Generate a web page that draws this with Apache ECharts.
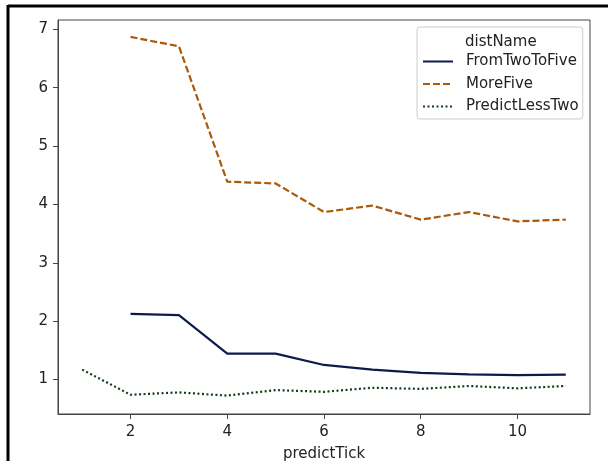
<!DOCTYPE html>
<html>
<head>
<meta charset="utf-8">
<script src="https://cdn.jsdelivr.net/npm/echarts@6/dist/echarts.min.js"></script>
<style>
  html, body { margin: 0; padding: 0; background: #fff; }
  #chart { width: 608px; height: 461px; }
</style>
</head>
<body>
<div id="chart"></div>
<script>
var ticks = [1, 2, 3, 4, 5, 6, 7, 8, 9, 10, 11];
var fromTwoToFive = [null, 2.125, 2.105, 1.445, 1.445, 1.25, 1.17, 1.115, 1.09, 1.075, 1.085];
var moreFive = [null, 6.87, 6.71, 4.39, 4.36, 3.87, 3.98, 3.74, 3.87, 3.71, 3.74];
var predictLessTwo = [1.17, 0.74, 0.78, 0.725, 0.82, 0.79, 0.86, 0.84, 0.89, 0.85, 0.89];
var xTicks = [2, 4, 6, 8, 10];
var yTicks = [1, 2, 3, 4, 5, 6, 7];

function pairs(vals) {
  var out = [];
  for (var i = 0; i < ticks.length; i++) {
    if (vals[i] != null) out.push([ticks[i], vals[i]]);
  }
  return out;
}

var font = 'DejaVu Sans';
var chart = echarts.init(document.getElementById('chart'));

var option = {
  animation: false,
  backgroundColor: '#fff',
  textStyle: { fontFamily: font },
  grid: {
    left: 58, top: 20, right: 18, bottom: 47,
    outerBoundsMode: 'none', containLabel: false,
    show: true, borderColor: '#444', borderWidth: 1
  },
  title: {
    text: 'distName', left: 460, top: 30,
    textStyle: { fontFamily: font, fontSize: 15, fontWeight: 'normal', color: '#222' }
  },
  legend: {
    orient: 'vertical', left: 417, top: 27,
    padding: [27, 4, 5, 5],
    itemGap: 7.5, itemWidth: 30, itemHeight: 12,
    borderColor: '#ccc', borderWidth: 1, borderRadius: 3,
    itemStyle: { opacity: 0 },
    textStyle: { fontFamily: font, fontSize: 15, color: '#222', padding: [0, 0, 0, 8] },
    data: ['FromTwoToFive', 'MoreFive', 'PredictLessTwo']
  },
  graphic: [
    { type: 'line', shape: { x1: 8, y1: 6, x2: 608, y2: 6 }, style: { stroke: '#000', lineWidth: 3 } },
    { type: 'line', shape: { x1: 8, y1: 5, x2: 8, y2: 461 }, style: { stroke: '#000', lineWidth: 3 } }
  ],
  xAxis: {
    type: 'value', min: 0.5, max: 11.5,
    name: 'predictTick', nameLocation: 'middle', nameGap: 33,
    nameTextStyle: { fontFamily: font, fontSize: 15, color: '#222' },
    splitLine: { show: false },
    axisLine: { show: true, lineStyle: { color: '#444' } },
    axisTick: { show: true, inside: false, length: 5, customValues: xTicks, lineStyle: { color: '#444' } },
    axisLabel: { customValues: xTicks, fontSize: 15, color: '#222', margin: 11, fontFamily: font }
  },
  yAxis: {
    type: 'value', min: 0.41, max: 7.16,
    splitLine: { show: false },
    axisLine: { show: true, lineStyle: { color: '#444' } },
    axisTick: { show: true, inside: false, length: 5, customValues: yTicks, lineStyle: { color: '#444' } },
    axisLabel: { customValues: yTicks, fontSize: 15, color: '#222', margin: 10, fontFamily: font }
  },
  series: [
    {
      name: 'FromTwoToFive', type: 'line', symbol: 'none',
      data: pairs(fromTwoToFive),
      itemStyle: { color: '#0d1b4c' },
      lineStyle: { color: '#0d1b4c', width: 2.2, type: 'solid' }
    },
    {
      name: 'MoreFive', type: 'line', symbol: 'none',
      data: pairs(moreFive),
      itemStyle: { color: '#a95a0c' },
      lineStyle: { color: '#a95a0c', width: 2.2, type: [7, 3] }
    },
    {
      name: 'PredictLessTwo', type: 'line', symbol: 'none',
      data: pairs(predictLessTwo),
      itemStyle: { color: '#123d14' },
      lineStyle: { color: '#123d14', width: 2.2, type: [2, 2.5] }
    }
  ]
};

chart.setOption(option);
</script>
</body>
</html>
